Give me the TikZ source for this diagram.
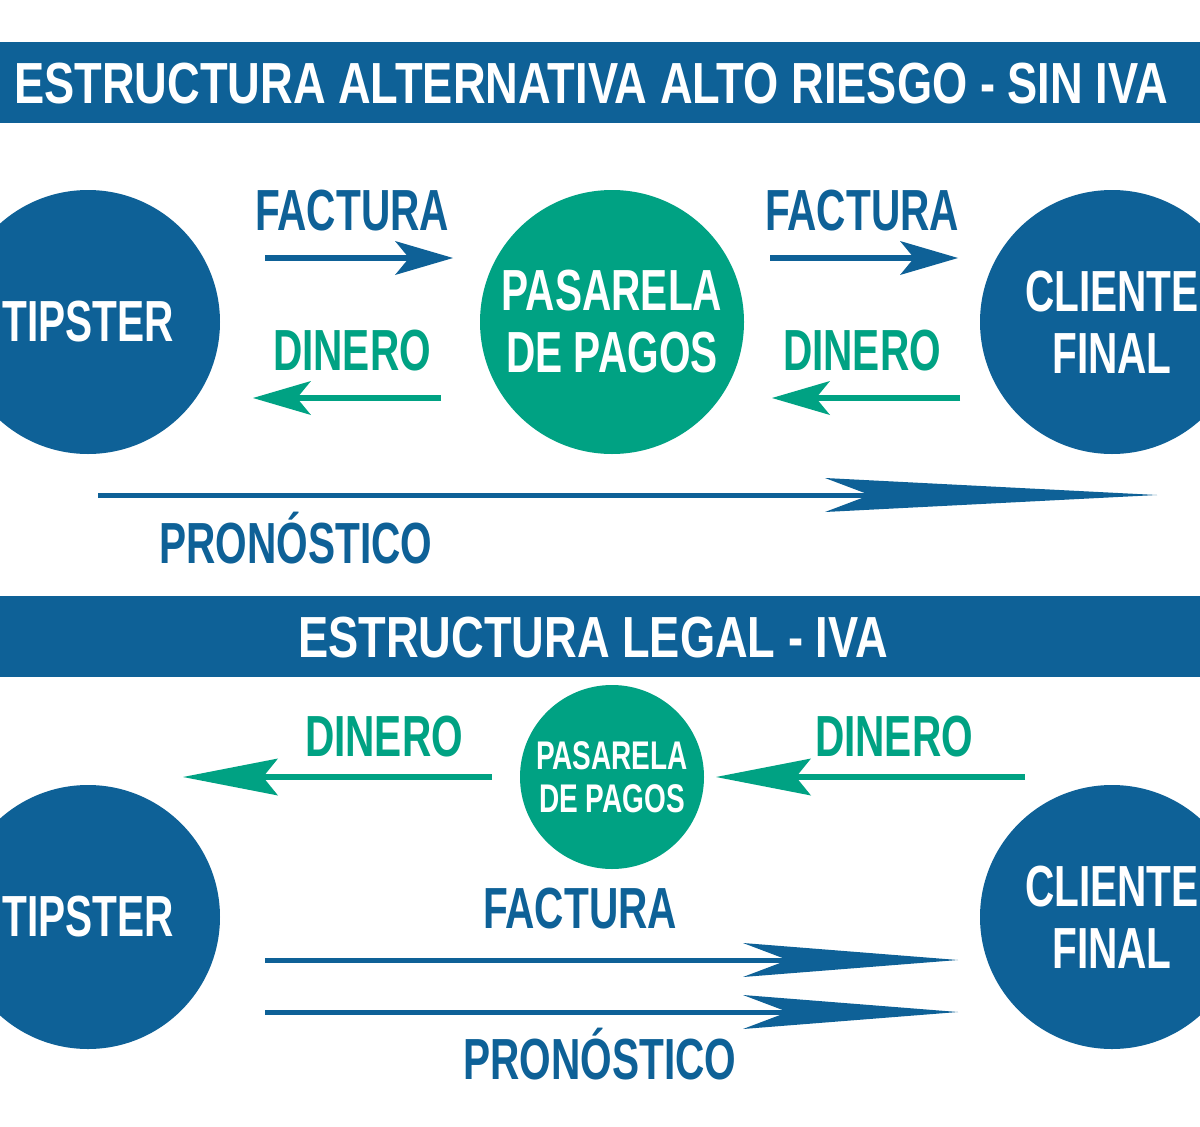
\documentclass[tikz,border=0pt]{standalone}
\usepackage{fontspec}
\setmainfont{Liberation Sans}[FakeStretch=0.7]
\newfontfamily\titlefont{Liberation Sans}[FakeStretch=0.78]
\usetikzlibrary{arrows.meta}
\definecolor{azul}{RGB}{14,97,151}
\definecolor{verde}{RGB}{0,162,131}

\begin{document}
\begin{tikzpicture}[x=1pt, y=-1pt,
    bar/.style={fill=azul},
    title/.style={anchor=base, inner sep=0, text=white, font=\titlefont\bfseries\fontsize{58}{62}\selectfont},
    circ/.style={circle, minimum size=264pt, inner sep=0, text=white, align=center, font=\bfseries\fontsize{58}{62}\selectfont},
    smallcirc/.style={circle, minimum size=184pt, inner sep=0, text=white, align=center, font=\bfseries\fontsize{40}{43}\selectfont},
    lbl/.style={anchor=base, inner sep=0, font=\bfseries\fontsize{58}{62}\selectfont},
    arrow/.style={line width=5.5pt, -{Stealth[length=58pt, width=34pt, inset=14pt, line width=0pt]}},
    longarrow/.style={line width=5pt, -{Stealth[length=#1, width=34pt, inset=45pt, line width=0pt]}}
]
\clip (0,0) rectangle (1200,1127);
\fill[white] (0,0) rectangle (1200,1127);

% alto riesgo - sin iva
\fill[bar] (0,42) rectangle (1200,123);
\node[title] (title1) at (591,103) {ESTRUCTURA ALTERNATIVA ALTO RIESGO - SIN IVA};

\node[circ, fill=azul] (tipster1) at (88,322) {TIPSTER};
\node[circ, fill=verde] (pasarela1) at (612,322) {PASARELA\\DE PAGOS};
\node[circ, fill=azul] (cliente1) at (1112,322) {CLIENTE\\FINAL};

\node[lbl, text=azul] (factura1) at (352,230) {FACTURA};
\node[lbl, text=azul] (factura2) at (862,230) {FACTURA};
\node[lbl, text=verde] (dinero1) at (352,370) {DINERO};
\node[lbl, text=verde] (dinero2) at (862,370) {DINERO};
\node[lbl, text=azul] (pronostico1) at (296,563) {PRONÓSTICO};

\coordinate (fa1) at (265,258); \coordinate (fa2) at (453,258);
\coordinate (fb1) at (770,258); \coordinate (fb2) at (958,258);
\coordinate (da1) at (441,398); \coordinate (da2) at (253,398);
\coordinate (db1) at (960,398); \coordinate (db2) at (772,398);
\coordinate (pa1) at (98,495);  \coordinate (pa2) at (1157,495);

\draw[arrow, azul] (fa1) -- (fa2);
\draw[arrow, azul] (fb1) -- (fb2);
\draw[arrow, verde] (da1) -- (da2);
\draw[arrow, verde] (db1) -- (db2);
\draw[longarrow=332pt, azul] (pa1) -- (pa2);

% legal - iva
\fill[bar] (0,596) rectangle (1200,677);
\node[title] (title2) at (593,657) {ESTRUCTURA LEGAL - IVA};

\node[smallcirc, fill=verde] (pasarela2) at (612,777) {PASARELA\\DE PAGOS};
\node[circ, fill=azul] (tipster2) at (88,917) {TIPSTER};
\node[circ, fill=azul] (cliente2) at (1112,917) {CLIENTE\\FINAL};

\node[lbl, text=verde] (dinero3) at (384,756) {DINERO};
\node[lbl, text=verde] (dinero4) at (894,756) {DINERO};
\node[lbl, text=azul] (factura3) at (580,928) {FACTURA};
\node[lbl, text=azul] (pronostico2) at (600,1079) {PRONÓSTICO};

\coordinate (dc1) at (492,777);  \coordinate (dc2) at (183,777);
\coordinate (dd1) at (1025,777); \coordinate (dd2) at (716,777);
\coordinate (fc1) at (265,960);  \coordinate (fc2) at (958,960);
\coordinate (pb1) at (265,1012); \coordinate (pb2) at (958,1012);

\draw[verde, line width=5.5pt, -{Stealth[length=95pt, width=37pt, inset=15pt, line width=0pt]}] (dc1) -- (dc2);
\draw[verde, line width=5.5pt, -{Stealth[length=95pt, width=37pt, inset=15pt, line width=0pt]}] (dd1) -- (dd2);
\draw[longarrow=215pt, azul] (fc1) -- (fc2);
\draw[longarrow=215pt, azul] (pb1) -- (pb2);
\end{tikzpicture}
\end{document}
